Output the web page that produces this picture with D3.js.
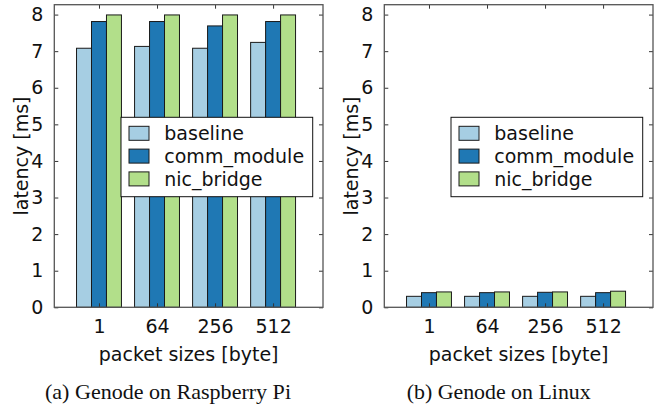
<!DOCTYPE html>
<html>
<head>
<meta charset="utf-8">
<script src="https://cdn.jsdelivr.net/npm/d3@7"></script>
<style>
  body { margin: 0; background: #fff; }
  svg { display: block; }
  text { font-family: "DejaVu Sans", sans-serif; fill: #111; }
  .caption { font-family: "Liberation Serif", "Times New Roman", serif; }
</style>
</head>
<body>
<div id="chart"></div>
<script>
// packet sizes on the x axis
const categories = ["1", "64", "256", "512"];
const seriesNames = ["baseline", "comm_module", "nic_bridge"];
const colors = ["#a6cee3", "#1f78b4", "#b2df8a"];
const yTicks = [0, 1, 2, 3, 4, 5, 6, 7, 8];

// (a) Genode on Raspberry Pi
const piBaseline = [7.08, 7.13, 7.08, 7.24];
const piComm = [7.81, 7.81, 7.69, 7.81];
const piNic = [7.99, 7.99, 7.99, 7.99];

// (b) Genode on Linux
const linuxBaseline = [0.30, 0.30, 0.30, 0.30];
const linuxComm = [0.40, 0.40, 0.41, 0.40];
const linuxNic = [0.42, 0.42, 0.42, 0.44];

const width = 663;
const height = 407;

const svg = d3.select("#chart")
  .append("svg")
  .attr("width", width)
  .attr("height", height);

function drawPanel(offsetX, series, caption) {
  const left = offsetX + 54.3, right = offsetX + 323;
  const top = 4.7, bottom = 307.3;

  const y = d3.scaleLinear().domain([0, 8.27]).range([bottom, top]);
  const x = d3.scaleLinear().domain([-0.77, 3.86]).range([left, right]);
  const barW = 0.258;

  const g = svg.append("g");

  // bars
  series.forEach((vals, s) => {
    g.selectAll(".bar" + s)
      .data(vals)
      .enter()
      .append("rect")
        .attr("x", (d, i) => x(i + (s - 1.5) * barW))
        .attr("y", d => y(d))
        .attr("width", x(barW) - x(0))
        .attr("height", d => y(0) - y(d))
        .attr("fill", colors[s])
        .attr("stroke", "#1a1a1a")
        .attr("stroke-width", 1);
  });

  // axes (matplotlib style, ticks inward on all sides)
  g.append("g")
    .attr("transform", `translate(${left},0)`)
    .call(d3.axisLeft(y).tickValues(yTicks).tickSize(-4).tickPadding(11).tickFormat(d3.format("d")))
    .call(a => a.select(".domain").remove())
    .selectAll("text").attr("font-size", "19px").style("font-family", "DejaVu Sans");

  g.append("g")
    .attr("transform", `translate(${right},0)`)
    .call(d3.axisRight(y).tickValues(yTicks).tickSize(-4).tickFormat(""))
    .call(a => a.select(".domain").remove());

  g.append("g")
    .attr("transform", `translate(0,${bottom})`)
    .call(d3.axisBottom(x).tickValues(d3.range(categories.length)).tickSize(-4).tickPadding(12)
      .tickFormat(i => categories[i]))
    .call(a => a.select(".domain").remove())
    .selectAll("text").attr("font-size", "19px").style("font-family", "DejaVu Sans");

  g.append("g")
    .attr("transform", `translate(0,${top})`)
    .call(d3.axisTop(x).tickValues(d3.range(categories.length)).tickSize(-4).tickFormat(""))
    .call(a => a.select(".domain").remove());

  g.selectAll(".tick line").attr("stroke", "#333");

  g.append("rect")
    .attr("x", left).attr("y", top)
    .attr("width", right - left).attr("height", bottom - top)
    .attr("fill", "none").attr("stroke", "#555").attr("stroke-width", 1.3);

  // axis labels
  g.append("text")
    .attr("transform", `translate(${offsetX + 28},${(top + bottom) / 2}) rotate(-90)`)
    .attr("text-anchor", "middle")
    .attr("font-size", "19px")
    .text("latency [ms]");

  g.append("text")
    .attr("x", (left + right) / 2)
    .attr("y", 361)
    .attr("text-anchor", "middle")
    .attr("font-size", "19px")
    .text("packet sizes [byte]");

  // legend
  const lg = g.append("g").attr("transform", `translate(${offsetX + 121},117.3)`);
  lg.append("rect")
    .attr("width", 191.7).attr("height", 79.4)
    .attr("fill", "#fff").attr("stroke", "#111").attr("stroke-width", 1);
  seriesNames.forEach((name, s) => {
    const cy = 16 + s * 22.8;
    lg.append("rect")
      .attr("x", 8).attr("y", cy - 7)
      .attr("width", 20).attr("height", 14)
      .attr("fill", colors[s]).attr("stroke", "#1a1a1a").attr("stroke-width", 1);
    lg.append("text")
      .attr("x", 43.3).attr("y", cy)
      .attr("dy", "0.35em")
      .attr("font-size", "19px")
      .text(name);
  });

  // caption
  g.append("text")
    .attr("class", "caption")
    .attr("x", offsetX + caption.x)
    .attr("y", 399)
    .attr("font-size", "21px")
    .attr("textLength", caption.w)
    .attr("lengthAdjust", "spacingAndGlyphs")
    .text(caption.text);
}

drawPanel(0, [piBaseline, piComm, piNic], {text: "(a) Genode on Raspberry Pi", x: 45, w: 246});
drawPanel(330, [linuxBaseline, linuxComm, linuxNic], {text: "(b) Genode on Linux", x: 76.7, w: 184});
</script>
</body>
</html>
